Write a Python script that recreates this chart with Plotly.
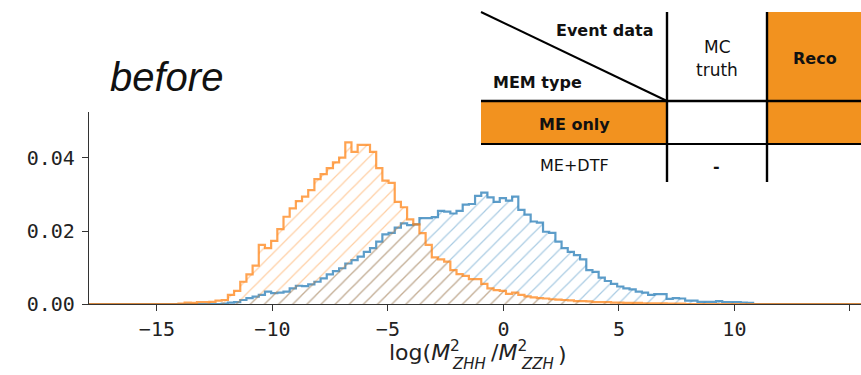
import plotly.graph_objects as go

# ---------------- data ----------------
BIN_START = -18.08
BIN_WIDTH = 0.2675

# normalised bin contents (fraction of events per bin), left padding of empty bins
pad_left = [0.0] * 15
orange_vals = pad_left + [
    0.0001, 0.0004, 0.0003, 0.0005, 0.0005, 0.0006, 0.0009, 0.0011, 0.0025, 0.0036,
    0.0061, 0.0081, 0.0105, 0.0162, 0.0153, 0.0173, 0.0205, 0.0239, 0.0262, 0.0282,
    0.0294, 0.0312, 0.0342, 0.0356, 0.0372, 0.0388, 0.0401, 0.0443, 0.0417, 0.0436,
    0.0436, 0.0417, 0.0372, 0.0338, 0.0332, 0.0280, 0.0265, 0.0232, 0.0218, 0.0194,
    0.0162, 0.0128, 0.0122, 0.0116, 0.0093, 0.0082, 0.0077, 0.0068, 0.0068, 0.0055,
    0.0043, 0.0038, 0.0036, 0.0028, 0.0031, 0.0025, 0.0021, 0.0018, 0.0016, 0.0015,
    0.0013, 0.0012, 0.0011, 0.0010, 0.0008, 0.0008, 0.0007, 0.0005, 0.0005, 0.0005,
    0.0004, 0.0004, 0.0003, 0.0003, 0.0003, 0.0002, 0.0002, 0.0002, 0.0002, 0.0001,
    0.0001, 0.0001, 0.0, 0.0, 0.0, 0.0, 0.0, 0.0, 0.0, 0.0,
    0.0, 0.0, 0.0, 0.0, 0.0, 0.0, 0.0, 0.0, 0.0, 0.0,
    0.0, 0.0, 0.0, 0.0, 0.0, 0.0, 0.0, 0.0, 0.0, 0.0, 0.0,
]
blue_vals = pad_left + [
    0.0, 0.0, 0.0, 0.0, 0.0, 0.0, 0.0, 0.0001, 0.0004, 0.0005,
    0.0011, 0.0016, 0.0020, 0.0025, 0.0034, 0.0030, 0.0031, 0.0034, 0.0043, 0.0050,
    0.0049, 0.0054, 0.0061, 0.0070, 0.0081, 0.0090, 0.0098, 0.0111, 0.0120, 0.0130,
    0.0143, 0.0153, 0.0171, 0.0191, 0.0195, 0.0209, 0.0221, 0.0216, 0.0218, 0.0235,
    0.0235, 0.0238, 0.0255, 0.0253, 0.0248, 0.0255, 0.0272, 0.0274, 0.0296, 0.0305,
    0.0292, 0.0280, 0.0290, 0.0283, 0.0294, 0.0258, 0.0245, 0.0226, 0.0223, 0.0198,
    0.0195, 0.0171, 0.0153, 0.0143, 0.0134, 0.0122, 0.0093, 0.0088, 0.0072, 0.0063,
    0.0055, 0.0048, 0.0043, 0.0040, 0.0034, 0.0031, 0.0025, 0.0027, 0.0027, 0.0014,
    0.0016, 0.0015, 0.0009, 0.0009, 0.0006, 0.0006, 0.0006, 0.0008, 0.0005, 0.0005,
    0.0005, 0.0004, 0.0003, 0.0, 0.0, 0.0, 0.0, 0.0, 0.0, 0.0,
    0.0, 0.0, 0.0, 0.0, 0.0, 0.0, 0.0, 0.0, 0.0, 0.0, 0.0,
]

x_tickvals = [-15, -10, -5, 0, 5, 10, 15]
x_ticktext = ["\u221215", "\u221210", "\u22125", "0", "5", "10", "15"]
y_tickvals = [0.0, 0.02, 0.04]
y_ticktext = ["0.00", "0.02", "0.04"]

# ---------------- geometry helpers (pixel -> paper) ----------------
W, H = 861, 375
L, R, T, B = 89, 0, 112, 71
PW, PH = W - L - R, H - T - B


def px(xp):
    return (xp - L) / PW


def py(yp):
    return (H - B - yp) / PH


def step_xy(vals):
    edges = [BIN_START + i * BIN_WIDTH for i in range(len(vals) + 1)]
    ys = list(vals) + [0.0]
    return edges, ys


fig = go.Figure()

BLUE_LINE = "rgba(31,119,180,0.72)"
ORANGE_LINE = "rgba(255,127,14,0.72)"

for vals, lc, hc in [
    (blue_vals, BLUE_LINE, "rgb(31,119,180)"),
    (orange_vals, ORANGE_LINE, "rgb(255,127,14)"),
]:
    xs, ys = step_xy(vals)
    fig.add_trace(go.Scatter(
        x=xs, y=ys, mode="lines", line=dict(color=lc, width=2.2, shape="hv"),
        fill="tozeroy", fillcolor="rgba(0,0,0,0)",
        fillpattern=dict(shape="/", size=10, solidity=0.12, fgcolor=hc,
                         fgopacity=0.38, bgcolor="rgba(0,0,0,0)"),
        hoverinfo="skip", showlegend=False,
    ))

mono = "DejaVu Sans Mono"
fig.update_layout(
    width=W, height=H,
    margin=dict(l=L, r=R, t=T, b=B, pad=0),
    paper_bgcolor="white", plot_bgcolor="white",
    showlegend=False,
    xaxis=dict(range=[-17.94, 15.48], tickvals=x_tickvals, ticktext=x_ticktext,
               showgrid=False, zeroline=False, showline=True, linecolor="#333",
               linewidth=1.4, ticks="outside", ticklen=6, tickwidth=1.3, tickcolor="#333",
               ticklabelstandoff=1,
               tickfont=dict(family=mono, size=20, color="#222")),
    yaxis=dict(range=[0, 0.0526], tickvals=y_tickvals, ticktext=y_ticktext,
               showgrid=False, zeroline=False, showline=True, linecolor="#333",
               linewidth=1.4, ticks="outside", ticklen=6, tickwidth=1.3, tickcolor="#333",
               ticklabelstandoff=3,
               tickfont=dict(family=mono, size=20, color="#222")),
)

# ---------------- x-axis label (mathtext style, stacked super/subscripts) ----------------
lab_font = "DejaVu Sans"
pieces = [
    ("log(<i>M</i><sup>2</sup>", 388, 351, 22),
    ("<i>ZHH</i>", 451, 364, 15),
    ("/<i>M</i><sup>2</sup>", 490, 351, 22),
    ("<i>ZZH</i>", 520, 364, 15),
    (")", 557, 354, 22),
]
for txt, xp, yp, fs in pieces:
    fig.add_annotation(text=txt, xref="paper", yref="paper", x=px(xp), y=py(yp),
                       xanchor="left", yanchor="middle", showarrow=False,
                       font=dict(family=lab_font, size=fs, color="#222"), borderpad=0)

# ---------------- "before" label ----------------
fig.add_annotation(text="<i>before</i>", xref="paper", yref="paper", x=px(109), y=py(77),
                   xanchor="left", yanchor="middle", showarrow=False,
                   font=dict(family="Liberation Sans", size=40, color="#111"), borderpad=0)

# ---------------- table overlay ----------------
ORANGE = "#F2921F"


def rect(x0, y0, x1, y1, color):
    fig.add_shape(type="rect", xref="paper", yref="paper", x0=px(x0), x1=px(x1),
                  y0=py(y0), y1=py(y1), fillcolor=color, line=dict(width=0), layer="above")


def seg(x0, y0, x1, y1, w=2.4):
    fig.add_shape(type="line", xref="paper", yref="paper", x0=px(x0), x1=px(x1),
                  y0=py(y0), y1=py(y1), line=dict(color="black", width=w), layer="above")


rect(768, 12, 861, 101, ORANGE)
rect(481, 101, 666, 144, ORANGE)
rect(768, 101, 861, 144, ORANGE)
seg(481, 12, 667, 101, 2.0)
seg(667, 12, 667, 182, 2.4)
seg(767, 12, 767, 182, 2.4)
seg(481, 101, 861, 101, 2.6)
seg(481, 144, 861, 144, 2.2)

tfont = "DejaVu Sans"


def ttext(txt, xp, yp, anchor="center", bold=False, size=16):
    t = f"<b>{txt}</b>" if bold else txt
    fig.add_annotation(text=t, xref="paper", yref="paper", x=px(xp), y=py(yp),
                       xanchor=anchor, yanchor="middle", showarrow=False,
                       font=dict(family=tfont, size=size, color="#111"), borderpad=0)


ttext("Event data", 655, 30, anchor="right", bold=True)
ttext("MEM type", 492, 83, anchor="left", bold=True)
ttext("MC", 717, 47, size=17)
ttext("truth", 717, 70, size=17)
ttext("Reco", 815, 58, bold=True)
ttext("ME only", 574, 124, bold=True)
ttext("ME+DTF", 574, 165)
ttext("-", 716, 166, bold=True)

fig.write_html("out.html")
